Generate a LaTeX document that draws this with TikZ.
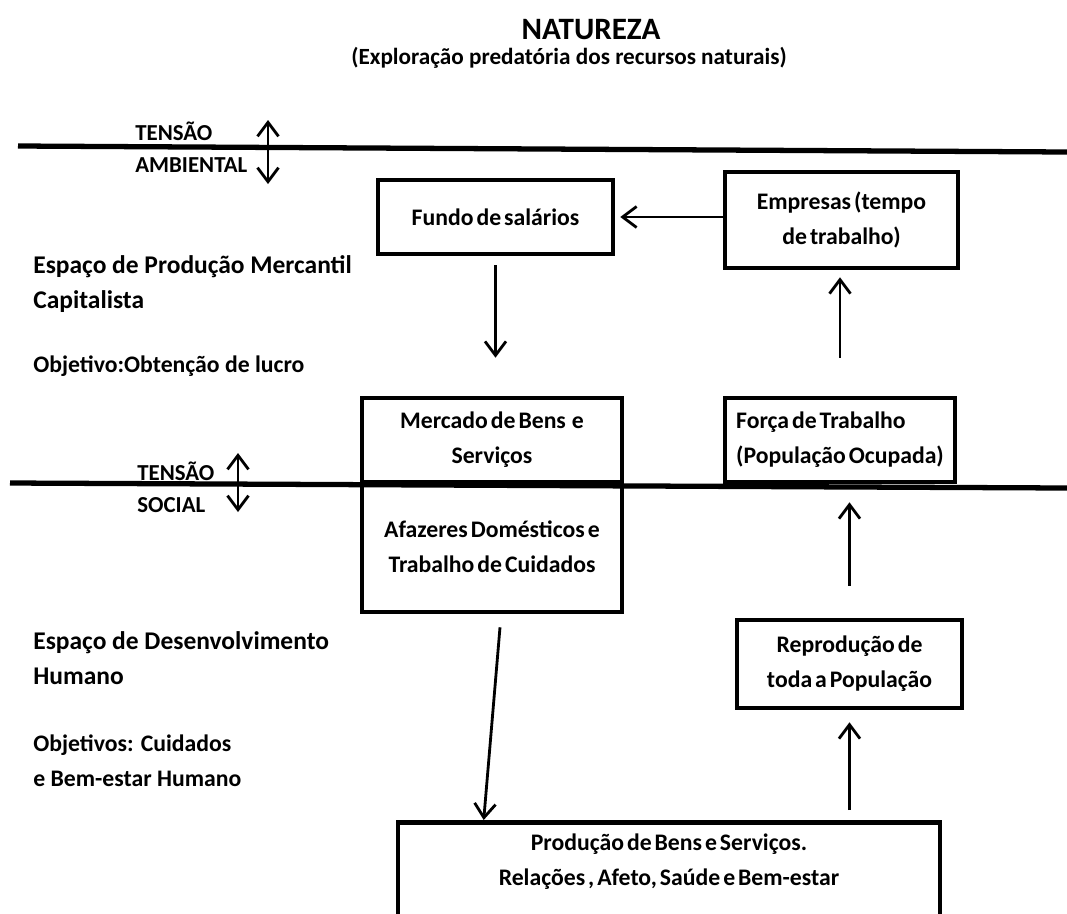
\documentclass[tikz,border=0pt]{standalone}
\usepackage{fontspec}
\setmainfont{Carlito}
\newfontfamily\apertada{Carlito}[WordSpace=0.55]
\usetikzlibrary{arrows.meta,positioning,calc}

\begin{document}
\begin{tikzpicture}[x=0.2mm, y=-0.2mm,
  every node/.style={font=\bfseries\fontsize{13.5}{19.8}\selectfont},
  caixa/.style={draw, line width=2.6pt, align=center, inner sep=0pt,
    font=\apertada\bfseries\fontsize{13.5}{19.8}\selectfont},
  rotulo/.style={anchor=west, align=left, inner sep=0pt},
  seta/.style={line width=1.6pt, -{Straight Barb[length=2.8mm, width=4.2mm]}},
  dupla/.style={line width=1.6pt, {Straight Barb[length=2.8mm, width=4.2mm]}-{Straight Barb[length=2.8mm, width=4.2mm]}},
  divisa/.style={line width=3pt}]
  \useasboundingbox (0,0) rectangle (1067,913);

  % Titulo
  \node (titulo) at (591,30) {\fontsize{17.7}{20}\selectfont NATUREZA};
  \node (subtitulo) at (569,58) {\fontsize{13.2}{15}\selectfont (Exploração predatória dos recursos naturais)};

  % Linhas de tensao
  \coordinate (amb-esq) at (18,146);
  \coordinate (amb-dir) at (1067,152);
  \coordinate (soc-esq) at (10,483);
  \coordinate (soc-dir) at (1067,488);
  \draw[divisa] (amb-esq) -- (amb-dir);
  \draw[divisa] (soc-esq) -- (soc-dir);

  \node[rotulo, font=\bfseries\fontsize{13}{16}\selectfont] (tensao-a) at (135,131) {TENSÃO};
  \node[rotulo, font=\bfseries\fontsize{13}{16}\selectfont] (ambiental) at (135,165) {AMBIENTAL};
  \coordinate (amb-cima) at (268,120);
  \coordinate (amb-baixo) at (268,184);
  \draw[dupla] (amb-cima) -- (amb-baixo);

  \node[rotulo, font=\bfseries\fontsize{13}{16}\selectfont] (tensao-s) at (137,471) {TENSÃO};
  \node[rotulo, font=\bfseries\fontsize{13}{16}\selectfont] (social) at (137,505) {SOCIAL};
  \coordinate (soc-cima) at (238,453);
  \coordinate (soc-baixo) at (238,512);
  \draw[dupla] (soc-cima) -- (soc-baixo);

  % Espacos
  \node[rotulo, font=\bfseries\fontsize{14.5}{19.8}\selectfont] (mercantil) at (33,284) {Espaço de Produção Mercantil\\Capitalista};
  \node[rotulo] (obj-lucro) at (33,366) {Objetivo:Obtenção de lucro};
  \node[rotulo, font=\bfseries\fontsize{14.5}{19.8}\selectfont] (humano) at (33,658) {Espaço de Desenvolvimento\\Humano};
  \node[rotulo] (obj-cuidado) at (33,761) {Objetivos: Cuidados\\e Bem-estar Humano};

  % Caixas
  \node[caixa, minimum width=47mm, minimum height=14.8mm] (fundo) at (495.5,217) {Fundo de salários};
  \node[caixa, minimum width=46.6mm, minimum height=19.2mm] (empresas) at (841.5,220) {Empresas (tempo\\de trabalho)};
  \node[caixa, minimum width=52mm, minimum height=16.8mm] (mercado) at (492,440) {Mercado de Bens\ \ e\\Serviços};
  \node[caixa, minimum width=46mm, minimum height=16.8mm, align=left] (forca) at (840,440) {Força de Trabalho\\(População Ocupada)};
  \node[caixa, minimum width=52mm, minimum height=26mm] (afazeres) at (492,547) {Afazeres Domésticos e\\Trabalho de Cuidados};
  \node[caixa, minimum width=45mm, minimum height=17.6mm] (reproducao) at (849.5,664) {Reprodução de\\toda a População};
  \node[caixa, anchor=north, minimum width=108.4mm, inner ysep=2.4mm, text depth=18mm] (producao) at (669,820) {Produção de Bens e Serviços.\\Relações , Afeto, Saúde e Bem-estar};

  % Fluxos
  \draw[seta, shorten >=1mm] (empresas.west |- fundo.east) -- (fundo.east);
  \draw[seta, shorten <=1.8mm, shorten >=7.6mm] (fundo.south) -- (fundo.south |- mercado.north);
  \draw[seta, shorten <=7.6mm, shorten >=1.4mm] (forca.north) -- (forca.north |- empresas.south);
  \draw[seta, shorten <=6.4mm, shorten >=3.6mm] (reproducao.north) -- (reproducao.north |- forca.south);
  \draw[seta] ($(afazeres.south)+(8,13)$) -- ($(producao.north west)+(88,0)$);
  \draw[seta, shorten <=2mm, shorten >=2.4mm] (reproducao.south |- producao.north) -- (reproducao.south);
\end{tikzpicture}
\end{document}
